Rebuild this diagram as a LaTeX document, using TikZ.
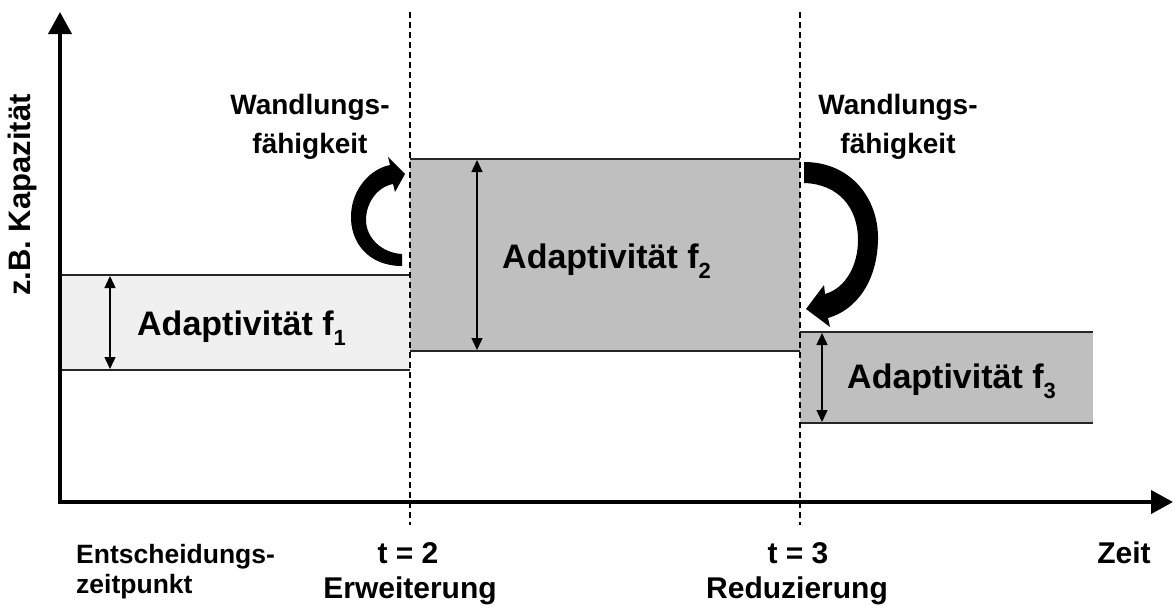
\documentclass[tikz,border=0pt]{standalone}
\usepackage{fontspec}
\setmainfont{Liberation Sans}
\usetikzlibrary{arrows.meta}
\begin{document}
\begin{tikzpicture}[x=1pt,y=-1pt,
  lbl/.style={font=\bfseries\fontsize{28}{39}\selectfont, inner sep=0pt, align=center},
  bot/.style={font=\bfseries\fontsize{30}{35}\selectfont, inner sep=0pt, anchor=base},
  ada/.style={font=\bfseries\fontsize{34}{40}\selectfont, inner sep=0pt, anchor=base west},
  boxline/.style={line width=1.5pt, draw=black!85},
  dimarrow/.style={line width=1.4pt, {Triangle[length=12pt,width=11pt]}-{Triangle[length=12pt,width=11pt]}},
  axisline/.style={line width=4pt, {Triangle[length=22pt,width=23pt]}-{Triangle[length=22pt,width=23pt]}},
  guide/.style={line width=1.2pt, dash pattern=on 6pt off 4pt},
  bendarrow/.style={fill=black},
]
\newcommand{\sub}[1]{\raisebox{-0.3em}{\fontsize{22}{22}\selectfont #1}}
\useasboundingbox (0,0) rectangle (1175,605);

% boxes
\fill[black!6] (60,275) rectangle (410,370);
\fill[black!25] (410,159) rectangle (800,351);
\fill[black!25] (800,332) rectangle (1093,423);

\coordinate (b1tl) at (60,275);  \coordinate (b1tr) at (410,275);
\coordinate (b1bl) at (60,370);  \coordinate (b1br) at (410,370);
\coordinate (b2tl) at (410,159); \coordinate (b2tr) at (800,159);
\coordinate (b2bl) at (410,351); \coordinate (b2br) at (800,351);
\coordinate (b3tl) at (800,332); \coordinate (b3tr) at (1093,332);
\coordinate (b3bl) at (800,423); \coordinate (b3br) at (1093,423);

\draw[boxline] (b1tl) -- (b1tr);
\draw[boxline] (b1bl) -- (b1br);
\draw[boxline] (b2tl) -- (b2tr);
\draw[boxline] (b2bl) -- (b2br);
\draw[boxline] (b3tl) -- (b3tr);
\draw[boxline] (b3bl) -- (b3br);

% dimension arrows
\coordinate (d1t) at (110,276); \coordinate (d1b) at (110,369);
\coordinate (d2t) at (477,160); \coordinate (d2b) at (477,350);
\coordinate (d3t) at (822,333); \coordinate (d3b) at (822,422);
\draw[dimarrow] (d1t) -- (d1b);
\draw[dimarrow] (d2t) -- (d2b);
\draw[dimarrow] (d3t) -- (d3b);

% dashed guides
\coordinate (g2t) at (410,12); \coordinate (g2b) at (410,525);
\coordinate (g3t) at (800,12); \coordinate (g3b) at (800,525);
\draw[guide] (g2t) -- (g2b);
\draw[guide] (g3t) -- (g3b);

% axes
\coordinate (ytip) at (60,12);
\coordinate (origin) at (60,502);
\coordinate (xtip) at (1173,502);
\draw[axisline] (ytip) -- (origin) -- (xtip);

% curved arrows
\fill[bendarrow] (402,266) .. controls (368,266) and (350,242) .. (351,215)
  .. controls (352,189) and (370,169) .. (390,165) -- (388,157) -- (405,174) -- (395,192) -- (393,184)
  .. controls (377,187) and (366,203) .. (366,220)
  .. controls (366,238) and (382,253) .. (402,254) -- cycle;
\fill[bendarrow] (804,162) .. controls (852,162) and (879,200) .. (878,240)
  .. controls (877,282) and (856,310) .. (828,318) -- (830,327) -- (806,309) -- (824,285) -- (825,294)
  .. controls (846,288) and (858,265) .. (858,240)
  .. controls (858,207) and (838,184) .. (804,183) -- cycle;

% labels
\node[lbl] (w1) at (310,127) {Wandlungs-\\f\"ahigkeit};
\node[lbl] (w2) at (898,127) {Wandlungs-\\f\"ahigkeit};
\node[ada] (a1) at (137,335) {Adaptivit\"at f\sub{1}};
\node[ada] (a2) at (502,268) {Adaptivit\"at f\sub{2}};
\node[ada] (a3) at (847,388) {Adaptivit\"at f\sub{3}};
\node[font=\bfseries\fontsize{31}{35}\selectfont, inner sep=0pt, rotate=90] (ylab) at (22,195) {z.B. Kapazit\"at};

\node[font=\bfseries\fontsize{26.5}{30}\selectfont, inner sep=0pt, anchor=base west] (e1) at (76,563) {Entscheidungs-};
\node[font=\bfseries\fontsize{26.5}{30}\selectfont, inner sep=0pt, anchor=base west] (e2) at (76,593) {zeitpunkt};
\node[bot] (t2) at (408,563) {t = 2};
\node[bot] (er) at (410,598) {Erweiterung};
\node[bot] (t3) at (798,563) {t = 3};
\node[bot] (re) at (797,598) {Reduzierung};
\node[bot] (zeit) at (1124,563) {Zeit};
\end{tikzpicture}
\end{document}
